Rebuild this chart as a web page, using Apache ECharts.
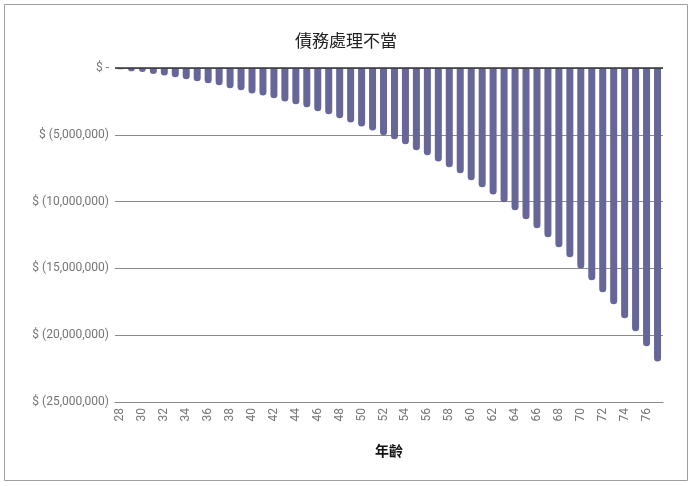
<!DOCTYPE html>
<html>
<head>
<meta charset="utf-8">
<script src="https://cdn.jsdelivr.net/npm/echarts@6/dist/echarts.min.js"></script>
<style>
html,body{margin:0;padding:0;background:#fff;}
#chart{width:692px;height:486px;}
</style>
</head>
<body>
<div id="chart"></div>
<script>
var titleText = '債務處理不當';
var xAxisName = '年齡';
var ages = ['28','29','30','31','32','33','34','35','36','37','38','39','40','41','42','43','44','45','46','47','48','49','50','51','52','53','54','55','56','57','58','59','60','61','62','63','64','65','66','67','68','69','70','71','72','73','74','75','76','77'];
var debt = [-100000,-250000,-300000,-450000,-570000,-700000,-850000,-1000000,-1150000,-1300000,-1520000,-1670000,-1900000,-2050000,-2270000,-2500000,-2720000,-2940000,-3240000,-3470000,-3770000,-4070000,-4370000,-4670000,-5040000,-5340000,-5710000,-6160000,-6540000,-6990000,-7430000,-7880000,-8410000,-8930000,-9460000,-10050000,-10650000,-11330000,-12000000,-12670000,-13420000,-14170000,-15000000,-15890000,-16790000,-17690000,-18740000,-19710000,-20830000,-21960000];
var yMin = -25000000, yMax = 0, yStep = 5000000;

function fmt(v){
  if (v === 0) return '$ -';
  return '$ (' + Math.abs(v).toLocaleString('en-US') + ')';
}

var chart = echarts.init(document.getElementById('chart'), null, {renderer:'canvas'});
chart.setOption({
  animation:false,
  backgroundColor:'#fff',
  title:{
    text:titleText, left:'center', top:27,
    textStyle:{fontFamily:'Noto Sans CJK TC', fontSize:17, fontWeight:'normal', color:'#222'}
  },
  graphic:[{
    type:'rect', shape:{x:4.5,y:4.5,width:683,height:476},
    style:{fill:'none', stroke:'#9e9e9e', lineWidth:1}, silent:true
  }],
  grid:{left:115, right:29, top:68, bottom:84},
  xAxis:{
    type:'category', data:ages,
    name:xAxisName, nameLocation:'middle', nameGap:42,
    nameTextStyle:{fontFamily:'Noto Sans CJK TC', fontSize:14, fontWeight:'bold', color:'#111'},
    axisLine:{onZero:false, lineStyle:{color:'#8a8a8a'}},
    axisTick:{show:false},
    axisLabel:{interval:1, rotate:90, margin:6, color:'#757575', fontFamily:'Roboto', fontSize:12}
  },
  yAxis:{
    type:'value', min:yMin, max:yMax, interval:yStep,
    axisLine:{show:false}, axisTick:{show:false},
    splitLine:{lineStyle:{color:'#8a8a8a', width:1}},
    axisLabel:{formatter:fmt, margin:6, color:'#757575', fontFamily:'Roboto', fontSize:12}
  },
  series:[{
    type:'bar', data:debt, barWidth:7,
    itemStyle:{color:'#666699', borderRadius:[0,0,3.5,3.5]},
    markLine:{
      silent:true, symbol:'none', label:{show:false},
      lineStyle:{color:'#333', type:'solid', width:1.5},
      data:[{yAxis:0}]
    }
  }]
});
</script>
</body>
</html>
